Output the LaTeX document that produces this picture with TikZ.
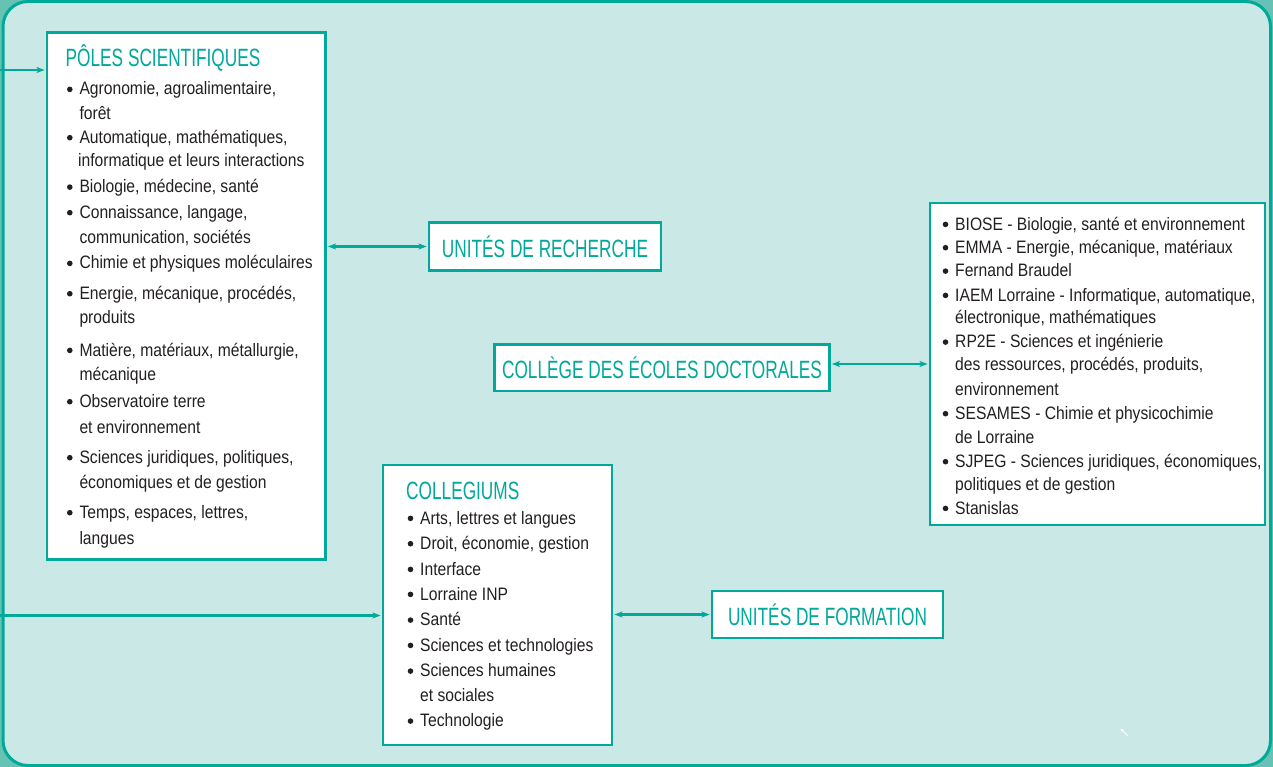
\documentclass[tikz,border=0pt]{standalone}
\usepackage{fontspec}
\setmainfont{Liberation Sans}[FakeStretch=0.87]
\newfontfamily\headfont{Liberation Sans}[FakeStretch=0.69]
\usetikzlibrary{arrows.meta}
\definecolor{tealc}{HTML}{00A99A}
\definecolor{bgc}{HTML}{C9E8E6}
\definecolor{cornerc}{HTML}{66C2B2}
\definecolor{textc}{HTML}{231F20}
\newcounter{lnum}
\newcommand{\Tline}[3]{\stepcounter{lnum}\node[txt] (t\thelnum) at (#1,#2) {#3};}
\newcommand{\Bline}[3]{\stepcounter{lnum}\fill[textc] (#1-9.5,#2-5.6) circle (2.8);\node[txt] (t\thelnum) at (#1,#2) {#3};}
\begin{document}
\begin{tikzpicture}[x=1pt,y=-1pt,
  txt/.style={anchor=base west, inner sep=0pt, text=textc, font=\fontsize{18}{20}\selectfont},
  ttl/.style={anchor=base west, inner sep=0pt, text=tealc, font=\headfont\fontsize{25}{27}\selectfont},
  box/.style={draw=tealc, fill=white, line width=2.5pt, rectangle, inner sep=0pt},
  headbox/.style={box, text=tealc, font=\headfont\fontsize{25}{27}\selectfont, text height=21.1pt, text depth=0pt},
  conn/.style={draw=tealc, line width=2.2pt},
  tip/.tip={Stealth[length=8pt,width=6pt,inset=2pt]}]
\useasboundingbox (0,0) rectangle (1273,767);
\fill[cornerc] (0,0) rectangle (1273,767);
\draw[tealc, line width=3pt, fill=bgc, rounded corners=25pt] (3,1.5) rectangle (1270.5,765.5);

% boxes
\node[box, minimum width=278.5pt, minimum height=527pt] (poles) at (186.25,296) {};
\node[headbox, minimum width=232pt, minimum height=48pt] (ur) at (545,246.5) {UNITÉS DE RECHERCHE};
\node[headbox, minimum width=335pt, minimum height=46.5pt] (ced) at (662,367.75) {COLLÈGE DES ÉCOLES DOCTORALES};
\node[box, minimum width=335pt, minimum height=322pt] (ed) at (1097.5,364) {};
\node[box, minimum width=229pt, minimum height=280pt] (coll) at (497.5,605) {};
\node[headbox, minimum width=231pt, minimum height=47pt] (uf) at (827.5,614.5) {UNITÉS DE FORMATION};

% connectors
\coordinate (in1) at (0,70);
\coordinate (in2) at (0,615.5);
\draw[conn, -{tip}, shorten >=1.2pt] (in1) -- (poles.west |- in1);
\draw[conn, -{tip}, shorten >=1.2pt] (in2) -- (coll.west |- in2);
\draw[conn, {tip}-{tip}, shorten >=1.2pt, shorten <=1.2pt] (poles.east |- ur.west) -- (ur.west);
\draw[conn, {tip}-{tip}, shorten >=1.2pt, shorten <=1.2pt] (ced.east |- ed.west) -- (ed.west);
\draw[conn, {tip}-{tip}, shorten >=1.2pt, shorten <=1.2pt] (coll.east |- uf.west) -- (uf.west);

% Pôles scientifiques
\node[ttl] (polesT) at (65.5,66.7) {PÔLES SCIENTIFIQUES};
\Bline{79.3}{95}{Agronomie, agroalimentaire,}
\Tline{79.3}{119.3}{forêt}
\Bline{79.3}{143.3}{Automatique, mathématiques,}
\Tline{78}{166.7}{informatique et leurs interactions}
\Bline{79.3}{192.7}{Biologie, médecine, santé}
\Bline{79.3}{218.3}{Connaissance, langage,}
\Tline{79.3}{243.3}{communication, sociétés}
\Bline{79.3}{269}{Chimie et physiques moléculaires}
\Bline{79.3}{299.3}{Energie, mécanique, procédés,}
\Tline{79.3}{323.3}{produits}
\Bline{79.3}{356}{Matière, matériaux, métallurgie,}
\Tline{79.3}{380}{mécanique}
\Bline{79.3}{407.3}{Observatoire terre}
\Tline{79.3}{433.3}{et environnement}
\Bline{79.3}{463.3}{Sciences juridiques, politiques,}
\Tline{79.3}{488.3}{économiques et de gestion}
\Bline{79.3}{518.3}{Temps, espaces, lettres,}
\Tline{79.3}{544}{langues}

% Écoles doctorales
\Bline{955}{230}{BIOSE - Biologie, santé et environnement}
\Bline{955}{253.3}{EMMA - Energie, mécanique, matériaux}
\Bline{955}{276.7}{Fernand Braudel}
\Bline{955}{301}{IAEM Lorraine - Informatique, automatique,}
\Tline{955}{323.3}{électronique, mathématiques}
\Bline{955}{347.7}{RP2E - Sciences et ingénierie}
\Tline{955}{370}{des ressources, procédés, produits,}
\Tline{955}{395}{environnement}
\Bline{955}{419.3}{SESAMES - Chimie et physicochimie}
\Tline{955}{443.3}{de Lorraine}
\Bline{955}{467.3}{SJPEG - Sciences juridiques, économiques,}
\Tline{955}{490.7}{politiques et de gestion}
\Bline{955}{514}{Stanislas}

% Collegiums
\node[ttl] (collT) at (406,499.3) {COLLEGIUMS};
\Bline{420}{524}{Arts, lettres et langues}
\Bline{420}{549.3}{Droit, économie, gestion}
\Bline{420}{575}{Interface}
\Bline{420}{600}{Lorraine INP}
\Bline{420}{625.7}{Santé}
\Bline{420}{651}{Sciences et technologies}
\Bline{420}{676.7}{Sciences humaines}
\Tline{420}{701.7}{et sociales}
\Bline{420}{726.7}{Technologie}

% small mark
\draw[white, line width=0.9pt, -{Stealth[length=4pt,width=4pt]}] (1127.5,735.5) -- (1120.5,728.5);
\end{tikzpicture}
\end{document}
